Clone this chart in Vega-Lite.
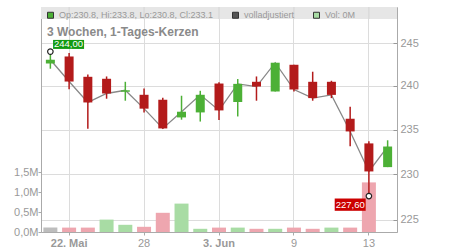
{
  "$schema": "https://vega.github.io/schema/vega-lite/v6.json",
  "width": 356,
  "height": 225,
  "autosize": {"type": "none"},
  "padding": {"left": 41, "top": 7, "right": 53, "bottom": 18},
  "background": "white",
  "config": {
    "font": "Liberation Sans",
    "view": {"stroke": "#cccccc"},
    "axis": {"labelFont": "Liberation Sans", "labelColor": "#999999", "labelFontSize": 11, "domainColor": "#aaaaaa", "tickColor": "#aaaaaa", "gridColor": "#dcdcdc", "title": null}
  },
  "title": {
    "text": "3 Wochen, 1-Tages-Kerzen",
    "anchor": "start",
    "frame": "group",
    "orient": "top",
    "offset": -41,
    "baseline": "alphabetic",
    "dx": 6,
    "fontSize": 12,
    "fontWeight": "bold",
    "color": "#8a8a8a",
    "font": "Liberation Sans"
  },
  "datasets": {
    "candles": [
      {"d": "2025-05-21", "o": 242.6, "h": 244.0, "l": 242.0, "c": 243.05, "dir": "up", "v": 0.11, "vdir": "flat"},
      {"d": "2025-05-22", "o": 243.43, "h": 243.83, "l": 239.63, "c": 240.51, "dir": "down", "v": 0.11, "vdir": "down"},
      {"d": "2025-05-23", "o": 241.06, "h": 241.33, "l": 235.1, "c": 238.1, "dir": "down", "v": 0.11, "vdir": "down"},
      {"d": "2025-05-26", "o": 240.83, "h": 241.1, "l": 238.53, "c": 239.13, "dir": "down", "v": 0.31, "vdir": "up"},
      {"d": "2025-05-27", "o": 239.33, "h": 240.48, "l": 238.3, "c": 239.5, "dir": "up", "v": 0.18, "vdir": "up"},
      {"d": "2025-05-28", "o": 238.98, "h": 239.7, "l": 236.96, "c": 237.39, "dir": "down", "v": 0.13, "vdir": "down"},
      {"d": "2025-05-29", "o": 238.41, "h": 238.64, "l": 235.1, "c": 235.14, "dir": "down", "v": 0.48, "vdir": "down"},
      {"d": "2025-05-30", "o": 236.39, "h": 238.87, "l": 236.13, "c": 237.04, "dir": "up", "v": 0.71, "vdir": "up"},
      {"d": "2025-06-02", "o": 236.96, "h": 239.44, "l": 235.92, "c": 238.98, "dir": "up", "v": 0.08, "vdir": "up"},
      {"d": "2025-06-03", "o": 240.28, "h": 240.44, "l": 236.1, "c": 237.19, "dir": "down", "v": 0.11, "vdir": "down"},
      {"d": "2025-06-04", "o": 238.15, "h": 240.8, "l": 236.5, "c": 240.24, "dir": "up", "v": 0.11, "vdir": "up"},
      {"d": "2025-06-05", "o": 240.48, "h": 241.1, "l": 238.3, "c": 239.93, "dir": "down", "v": 0.08, "vdir": "down"},
      {"d": "2025-06-06", "o": 239.36, "h": 242.7, "l": 239.36, "c": 242.7, "dir": "up", "v": 0.08, "vdir": "up"},
      {"d": "2025-06-09", "o": 242.46, "h": 242.46, "l": 239.36, "c": 239.59, "dir": "down", "v": 0.11, "vdir": "down"},
      {"d": "2025-06-10", "o": 240.48, "h": 241.65, "l": 238.3, "c": 238.6, "dir": "down", "v": 0.08, "vdir": "down"},
      {"d": "2025-06-11", "o": 240.48, "h": 240.6, "l": 238.6, "c": 238.97, "dir": "down", "v": 0.11, "vdir": "up"},
      {"d": "2025-06-12", "o": 236.24, "h": 237.61, "l": 233.12, "c": 234.8, "dir": "down", "v": 0.11, "vdir": "down"},
      {"d": "2025-06-13", "o": 233.45, "h": 233.68, "l": 227.6, "c": 230.32, "dir": "down", "v": 1.24, "vdir": "down"},
      {"d": "2025-06-16", "o": 230.8, "h": 233.8, "l": 230.8, "c": 233.1, "dir": "up", "v": 0, "vdir": "up"}
    ],
    "extremes": [
      {"d": "2025-05-21", "p": 244.0, "lab": "244,00", "kind": "hi"},
      {"d": "2025-06-13", "p": 227.6, "lab": "227,60", "kind": "lo"}
    ],
    "header": [{"first": "2025-05-21", "last": "2025-06-16", "top": 249.3, "bottom": 247.85}],
    "labeldates": [{"d": "2025-05-22"}, {"d": "2025-05-28"}, {"d": "2025-06-03"}, {"d": "2025-06-09"}, {"d": "2025-06-13"}],
    "legenditems": [
      {"item": "Op:230.8, Hi:233.8, Lo:230.8, Cl:233.1"},
      {"item": "volladjustiert"},
      {"item": "Vol: 0M"}
    ]
  },
  "layer": [
    {
      "data": {"name": "candles"},
      "mark": {"type": "bar", "size": 14},
      "encoding": {
        "x": {
          "field": "d",
          "type": "ordinal",
          "scale": {"paddingInner": 0, "paddingOuter": 0},
          "axis": {
            "values": ["2025-05-22", "2025-05-28", "2025-06-03", "2025-06-09", "2025-06-13"],
            "labelExpr": "datum.value == '2025-05-22' ? '22. Mai' : datum.value == '2025-05-28' ? '28' : datum.value == '2025-06-03' ? '3. Jun' : datum.value == '2025-06-09' ? '9' : '13'",
            "labelFontWeight": {"condition": {"test": "datum.value == '2025-05-22' || datum.value == '2025-06-03'", "value": "bold"}, "value": "normal"},
            "labelAngle": 0,
            "grid": true,
            "bandPosition": 0.5,
            "tickSize": 3,
            "labelPadding": 2
          }
        },
        "y": {
          "field": "v",
          "type": "quantitative",
          "scale": {"domain": [0, 5.625], "nice": false},
          "axis": {
            "orient": "left",
            "values": [0, 0.5, 1, 1.5],
            "labelExpr": "replace(format(datum.value, '.1f'), '.', ',') + 'M'",
            "grid": false,
            "tickSize": 3,
            "labelPadding": 0
          }
        },
        "color": {
          "field": "vdir",
          "type": "nominal",
          "scale": {"domain": ["flat", "up", "down"], "range": ["#bdbdbd", "#a8dca4", "#eea6af"]},
          "legend": null
        }
      }
    },
    {
      "layer": [
        {
          "data": {"name": "header"},
          "mark": {"type": "rect", "color": "#e6e6e6"},
          "encoding": {
            "x": {"field": "first", "type": "ordinal", "bandPosition": 0},
            "x2": {"field": "last", "bandPosition": 1},
            "y": {
              "field": "bottom",
              "type": "quantitative",
              "scale": {"type": "log", "domain": [223.7, 249.3], "nice": false, "zero": false},
              "axis": {
                "orient": "right",
                "values": [225, 230, 235, 240, 245],
                "format": "d",
                "grid": true,
                "tickSize": -4,
                "tickColor": "#999999",
                "labelPadding": 7
              }
            },
            "y2": {"field": "top"}
          }
        },
        {
          "data": {"name": "labeldates"},
          "mark": {"type": "rule", "color": "#d4d4d4", "strokeWidth": 1},
          "encoding": {
            "x": {"field": "d", "type": "ordinal"},
            "y": {"datum": 247.85, "type": "quantitative"},
            "y2": {"datum": 249.3}
          }
        },
        {
          "data": {"name": "candles"},
          "mark": {"type": "line", "color": "#888888", "strokeWidth": 1.3},
          "encoding": {
            "x": {"field": "d", "type": "ordinal"},
            "y": {"field": "c", "type": "quantitative"}
          }
        },
        {
          "data": {"name": "candles"},
          "mark": {"type": "rule", "strokeWidth": 1.5},
          "encoding": {
            "x": {"field": "d", "type": "ordinal"},
            "y": {"field": "l", "type": "quantitative"},
            "y2": {"field": "h"},
            "color": {"field": "dir", "type": "nominal", "scale": {"domain": ["up", "down"], "range": ["#4cb036", "#b31b1b"]}, "legend": null}
          }
        },
        {
          "data": {"name": "candles"},
          "mark": {"type": "bar", "size": 9},
          "encoding": {
            "x": {"field": "d", "type": "ordinal"},
            "y": {"field": "o", "type": "quantitative"},
            "y2": {"field": "c"},
            "color": {"field": "dir", "type": "nominal", "scale": {"domain": ["up", "down"], "range": ["#4cb036", "#b31b1b"]}, "legend": null}
          }
        },
        {
          "data": {"name": "extremes"},
          "mark": {"type": "point", "filled": true, "fill": "white", "stroke": "#222222", "strokeWidth": 1.2, "size": 30, "opacity": 1},
          "encoding": {
            "x": {"field": "d", "type": "ordinal"},
            "y": {"field": "p", "type": "quantitative"}
          }
        },
        {
          "data": {"name": "extremes"},
          "transform": [{"filter": "datum.kind == 'hi'"}],
          "mark": {"type": "point", "shape": "M0.27,-1.17H3.37V-0.27H0.27Z", "size": 400, "filled": true, "color": "#129a12", "opacity": 1, "strokeWidth": 0},
          "encoding": {
            "x": {"field": "d", "type": "ordinal"},
            "y": {"field": "p", "type": "quantitative"}
          }
        },
        {
          "data": {"name": "extremes"},
          "transform": [{"filter": "datum.kind == 'lo'"}],
          "mark": {"type": "point", "shape": "M-3.42,0.24H-0.32V1.47H-3.42Z", "size": 400, "filled": true, "color": "#cc0000", "opacity": 1, "strokeWidth": 0},
          "encoding": {
            "x": {"field": "d", "type": "ordinal"},
            "y": {"field": "p", "type": "quantitative"}
          }
        },
        {
          "data": {"name": "extremes"},
          "transform": [{"filter": "datum.kind == 'hi'"}],
          "mark": {"type": "text", "color": "white", "fontSize": 9.5, "dx": 18.1, "dy": -7.2, "baseline": "middle", "align": "center"},
          "encoding": {
            "x": {"field": "d", "type": "ordinal"},
            "y": {"field": "p", "type": "quantitative"},
            "text": {"field": "lab"}
          }
        },
        {
          "data": {"name": "extremes"},
          "transform": [{"filter": "datum.kind == 'lo'"}],
          "mark": {"type": "text", "color": "white", "fontSize": 9.5, "dx": -18.7, "dy": 8.6, "baseline": "middle", "align": "center"},
          "encoding": {
            "x": {"field": "d", "type": "ordinal"},
            "y": {"field": "p", "type": "quantitative"},
            "text": {"field": "lab"}
          }
        },
        {
          "data": {"name": "legenditems"},
          "mark": {"type": "square", "size": 0, "opacity": 0},
          "encoding": {
            "color": {
              "field": "item",
              "type": "nominal",
              "sort": null,
              "scale": {"domain": ["Op:230.8, Hi:233.8, Lo:230.8, Cl:233.1", "volladjustiert", "Vol: 0M"], "range": ["#4cb036", "#555555", "#a8dca4"]},
              "legend": {
                "orient": "none",
                "legendX": 5,
                "legendY": 3.5,
                "direction": "horizontal",
                "title": null,
                "symbolType": "square",
                "symbolSize": 36,
                "labelFontSize": 9,
                "labelColor": "#999999",
                "labelFont": "Liberation Sans",
                "labelLimit": 400,
                "columnPadding": 16,
                "padding": 0,
                "labelOffset": 4,
                "symbolOpacity": 1,
                "encode": {"symbols": {"update": {"stroke": {"value": "#333333"}, "strokeWidth": {"value": 1}, "opacity": {"value": 1}, "fillOpacity": {"value": 1}}}}
              }
            }
          }
        }
      ],
      "resolve": {"scale": {"color": "independent"}}
    }
  ],
  "resolve": {"scale": {"y": "independent", "color": "independent"}}
}
